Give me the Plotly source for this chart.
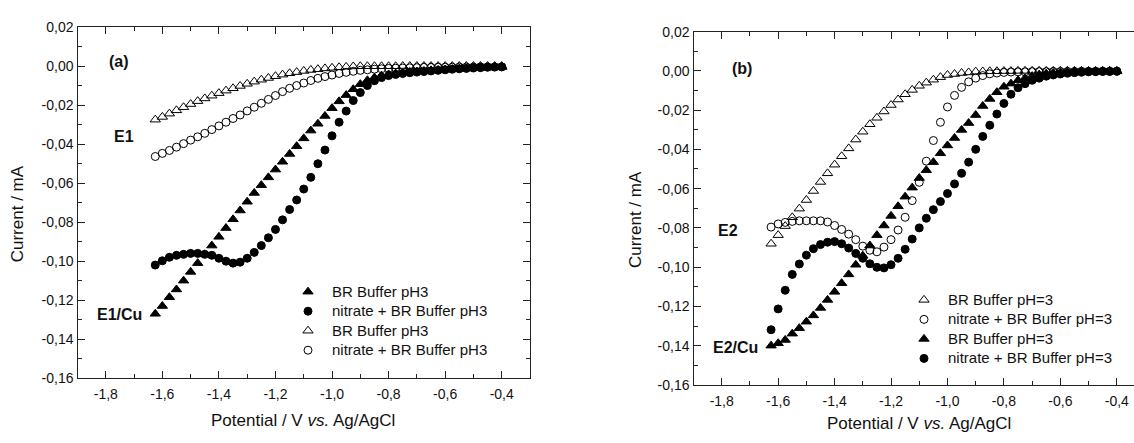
import plotly.graph_objects as go

# ---------------- data ----------------
potential = [-1.625, -1.600, -1.575, -1.550, -1.525, -1.500, -1.475, -1.450, -1.425, -1.400,
             -1.375, -1.350, -1.325, -1.300, -1.275, -1.250, -1.225, -1.200, -1.175, -1.150,
             -1.125, -1.100, -1.075, -1.050, -1.025, -1.000, -0.975, -0.950, -0.925, -0.900,
             -0.875, -0.850, -0.825, -0.800, -0.775, -0.750, -0.725, -0.700, -0.675, -0.650,
             -0.625, -0.600, -0.575, -0.550, -0.525, -0.500, -0.475, -0.450, -0.425, -0.400]

# panel (a): E1 / E1-Cu
a_cu_buffer = [-0.127, -0.123, -0.1185, -0.1145, -0.110, -0.1055, -0.101, -0.0965, -0.092, -0.0875,
               -0.083, -0.0785, -0.074, -0.0695, -0.065, -0.061, -0.057, -0.053, -0.049, -0.045,
               -0.041, -0.037, -0.033, -0.0295, -0.0255, -0.0215, -0.018, -0.0148, -0.0118, -0.0092,
               -0.0072, -0.0058, -0.0048, -0.0042, -0.0037, -0.0033, -0.0030, -0.0027, -0.0024, -0.0021,
               -0.0019, -0.0017, -0.0015, -0.0013, -0.0011, -0.0009, -0.0007, -0.0006, -0.0005, -0.0004]
a_cu_nitrate = [-0.102, -0.0998, -0.098, -0.097, -0.0965, -0.096, -0.096, -0.0965, -0.097, -0.0985,
                -0.100, -0.101, -0.1005, -0.0985, -0.0955, -0.092, -0.088, -0.0837, -0.0788, -0.0735,
                -0.0686, -0.063, -0.057, -0.050, -0.043, -0.0357, -0.0287, -0.023, -0.0176, -0.0135,
                -0.0099, -0.0074, -0.0058, -0.0048, -0.0042, -0.0037, -0.0033, -0.0030, -0.0027, -0.0024,
                -0.0021, -0.0018, -0.0015, -0.0013, -0.0011, -0.0009, -0.0007, -0.0005, -0.0004, -0.0003]
a_e1_buffer = [-0.0274, -0.026, -0.0243, -0.0226, -0.021, -0.0194, -0.0179, -0.0165, -0.0151, -0.0138,
               -0.0125, -0.0113, -0.0101, -0.0090, -0.0079, -0.0069, -0.0060, -0.0051, -0.0043, -0.0036,
               -0.0030, -0.0024, -0.0019, -0.0015, -0.0011, -0.0008, -0.0005, -0.0003, -0.0001, 0.0,
               0.0, 0.0, 0.0, 0.0, 0.0, 0.0001, 0.0001, 0.0001, 0.0001, 0.0001,
               0.0001, 0.0001, 0.0001, 0.0001, 0.0001, 0.0001, 0.0001, 0.0001, 0.0001, 0.0001]
a_e1_nitrate = [-0.0463, -0.0447, -0.0432, -0.0415, -0.0397, -0.0379, -0.0362, -0.0344, -0.0325, -0.0306,
                -0.0287, -0.0268, -0.025, -0.0229, -0.021, -0.019, -0.017, -0.015, -0.013, -0.0113,
                -0.0099, -0.0086, -0.0073, -0.0062, -0.0053, -0.0045, -0.0037, -0.0031, -0.0026, -0.0021,
                -0.0018, -0.0015, -0.0013, -0.0011, -0.0010, -0.0009, -0.0008, -0.0007, -0.0006, -0.0006,
                -0.0005, -0.0005, -0.0005, -0.0004, -0.0004, -0.0004, -0.0003, -0.0003, -0.0003, -0.0003]

# panel (b): E2 / E2-Cu
b_e2_buffer = [-0.0881, -0.0837, -0.0791, -0.0746, -0.0702, -0.0658, -0.0612, -0.0566, -0.0522, -0.0478,
               -0.0435, -0.0395, -0.035, -0.031, -0.0272, -0.0239, -0.0207, -0.0174, -0.0146, -0.0119,
               -0.0097, -0.0076, -0.0060, -0.0045, -0.0032, -0.0021, -0.0016, -0.0011, -0.0008, -0.0004,
               -0.0003, -0.0002, -0.0002, -0.0001, -0.0001, 0.0, 0.0, 0.0, 0.0, 0.0,
               0.0, 0.0, 0.0, 0.0, 0.0, 0.0, 0.0, 0.0, 0.0, 0.0]
b_e2_nitrate = [-0.0796, -0.078, -0.0772, -0.0767, -0.0764, -0.0764, -0.0764, -0.0764, -0.077, -0.0788,
                -0.0808, -0.0832, -0.086, -0.0893, -0.0914, -0.0922, -0.0898, -0.086, -0.0811, -0.0746,
                -0.0661, -0.0568, -0.046, -0.0355, -0.0262, -0.0184, -0.0125, -0.0084, -0.0056, -0.0037,
                -0.0024, -0.0015, -0.0011, -0.0008, -0.0006, -0.0005, -0.0005, -0.0004, -0.0004, -0.0004,
                -0.0003, -0.0003, -0.0003, -0.0003, -0.0002, -0.0002, -0.0002, -0.0002, -0.0002, -0.0002]
b_cu_buffer = [-0.140, -0.1388, -0.1371, -0.1339, -0.1311, -0.1278, -0.1246, -0.1208, -0.1167, -0.1126,
               -0.1082, -0.1037, -0.0988, -0.0942, -0.089, -0.0837, -0.0788, -0.0739, -0.069, -0.0641,
               -0.0595, -0.0546, -0.0506, -0.0465, -0.042, -0.038, -0.0342, -0.0301, -0.0266, -0.0225,
               -0.0179, -0.0143, -0.0109, -0.0081, -0.0065, -0.0048, -0.0037, -0.0027, -0.0019, -0.0014,
               -0.0011, -0.0009, -0.0007, -0.0006, -0.0005, -0.0004, -0.0003, -0.0003, -0.0002, -0.0002]
b_cu_nitrate = [-0.1319, -0.1213, -0.1118, -0.1037, -0.0984, -0.0939, -0.0906, -0.0885, -0.0873, -0.087,
                -0.0881, -0.0903, -0.093, -0.0955, -0.0983, -0.1001, -0.1004, -0.0988, -0.0955, -0.0909,
                -0.0857, -0.080, -0.0751, -0.0707, -0.0666, -0.0625, -0.0576, -0.0522, -0.0465, -0.040,
                -0.0334, -0.0277, -0.022, -0.0166, -0.0119, -0.0086, -0.0065, -0.0048, -0.0037, -0.0027,
                -0.0021, -0.0016, -0.0012, -0.0009, -0.0007, -0.0005, -0.0004, -0.0003, -0.0003, -0.0002]

legend_a = ["BR Buffer pH3", "nitrate + BR Buffer pH3", "BR Buffer pH3", "nitrate + BR Buffer pH3"]
legend_b = ["BR Buffer pH=3", "nitrate + BR Buffer pH=3", "BR Buffer pH=3", "nitrate + BR Buffer pH=3"]

x_tickvals = [-1.8, -1.6, -1.4, -1.2, -1.0, -0.8, -0.6, -0.4]
x_ticktext = ["-1,8", "-1,6", "-1,4", "-1,2", "-1,0", "-0,8", "-0,6", "-0,4"]
y_tickvals = [0.02, 0.0, -0.02, -0.04, -0.06, -0.08, -0.10, -0.12, -0.14, -0.16]
y_ticktext = ["0,02", "0,00", "-0,02", "-0,04", "-0,06", "-0,08", "-0,10", "-0,12", "-0,14", "-0,16"]

x_title = "Potential / V <i>vs.</i> Ag/AgCl"
y_title = "Current / mA"

# ---------------- figure ----------------
W, H = 1134, 443
FONT = "Arial, Liberation Sans, Helvetica, sans-serif"
AX = "#222222"
LEG_TEXT = 15   # visible legend text size
LEG_ROW = 12.7  # legend font size that sets the row pitch

fig = go.Figure()

def add(x, y, name, symbol, size, xa, ya, legend):
    fig.add_trace(go.Scatter(
        x=x, y=y, mode="markers", xaxis=xa, yaxis=ya, legend=legend,
        name=f"<span style='font-size:{LEG_TEXT}px'>{name}</span>",
        marker=dict(symbol=symbol, size=size, color="black",
                    line=dict(color="black", width=1)),
    ))

add(potential, a_cu_buffer, legend_a[0], "triangle-up", 9, "x", "y", "legend")
add(potential, a_cu_nitrate, legend_a[1], "circle", 8, "x", "y", "legend")
add(potential, a_e1_buffer, legend_a[2], "triangle-up-open", 9, "x", "y", "legend")
add(potential, a_e1_nitrate, legend_a[3], "circle-open", 8, "x", "y", "legend")

add(potential, b_e2_buffer, legend_b[0], "triangle-up-open", 9, "x2", "y2", "legend2")
add(potential, b_e2_nitrate, legend_b[1], "circle-open", 8, "x2", "y2", "legend2")
add(potential, b_cu_buffer, legend_b[2], "triangle-up", 9, "x2", "y2", "legend2")
add(potential, b_cu_nitrate, legend_b[3], "circle", 8, "x2", "y2", "legend2")

def px_x(p):
    return p / W

def px_y(p):
    return 1 - p / H

common_x = dict(
    tickmode="array", tickvals=x_tickvals, ticktext=x_ticktext,
    ticks="inside", ticklen=7, tickwidth=1.2, tickcolor=AX,
    showline=True, linecolor=AX, linewidth=1.4, mirror="ticks",
    showgrid=False, zeroline=False, ticklabelstandoff=3,
    tickfont=dict(family=FONT, size=14, color="#111"),
    minor=dict(tickmode="linear", tick0=-1.9, dtick=0.1, ticks="inside",
               ticklen=4, tickwidth=1.2, tickcolor=AX),
)
common_y = dict(
    tickmode="array", tickvals=y_tickvals, ticktext=y_ticktext, range=[-0.16, 0.02],
    ticks="inside", ticklen=7, tickwidth=1.2, tickcolor=AX,
    showline=True, linecolor=AX, linewidth=1.4,
    showgrid=False, zeroline=False, ticklabelstandoff=0,
    tickfont=dict(family=FONT, size=14, color="#111"),
    minor=dict(tickmode="linear", tick0=-0.16, dtick=0.01, ticks="inside",
               ticklen=4, tickwidth=1.2, tickcolor=AX),
)

fig.update_layout(
    width=W, height=H, margin=dict(l=0, r=0, t=0, b=0),
    paper_bgcolor="white", plot_bgcolor="white",
    font=dict(family=FONT, color="#111"),
    xaxis=dict(common_x, domain=[px_x(77.5), px_x(530)], range=[-1.9, -0.3], anchor="y"),
    yaxis=dict(common_y, domain=[px_y(384), px_y(20)], anchor="x", mirror="ticks"),
    xaxis2=dict(common_x, domain=[px_x(693.5), 1.0], range=[-1.9, -0.339], anchor="y2"),
    yaxis2=dict(common_y, domain=[px_y(391), px_y(24.5)], anchor="x2", mirror=False),
    legend=dict(x=px_x(284), y=px_y(279), xanchor="left", yanchor="top",
                bgcolor="rgba(0,0,0,0)", font=dict(family=FONT, size=LEG_ROW, color="#111"),
                tracegroupgap=0, itemsizing="trace", itemwidth=38),
    legend2=dict(x=px_x(900), y=px_y(287.5), xanchor="left", yanchor="top",
                 bgcolor="rgba(0,0,0,0)", font=dict(family=FONT, size=LEG_ROW, color="#111"),
                 tracegroupgap=0, itemsizing="trace", itemwidth=38),
    showlegend=True,
)

ann = []
def label(text, x, y, xref, yref, size=16, bold=True):
    ann.append(dict(text=f"<b>{text}</b>" if bold else text, x=x, y=y, xref=xref, yref=yref,
                    xanchor="center", yanchor="middle",
                    showarrow=False, font=dict(family=FONT, size=size, color="#111")))

label("(a)", -1.752, 0.0024, "x", "y")
label("E1", -1.735, -0.0361, "x", "y")
label("E1/Cu", -1.752, -0.1272, "x", "y")
label("(b)", -1.729, 0.0012, "x2", "y2")
label("E2", -1.777, -0.0813, "x2", "y2")
label("E2/Cu", -1.752, -0.1409, "x2", "y2")

for cx, cy in [(303, 428), (919, 431)]:
    ann.append(dict(text=x_title, x=px_x(cx), y=px_y(cy), xref="paper", yref="paper",
                    xanchor="center", yanchor="middle",
                    showarrow=False, font=dict(family=FONT, size=17, color="#111")))
for cx, cy in [(17, 214), (635, 220)]:
    ann.append(dict(text=y_title, x=px_x(cx), y=px_y(cy), xref="paper", yref="paper",
                    xanchor="center", yanchor="middle",
                    textangle=-90, showarrow=False, font=dict(family=FONT, size=17, color="#111")))

fig.update_layout(annotations=ann)
fig.write_html("out.html", config={"displayModeBar": False},
               post_script="document.body.style.margin='0';document.body.style.overflow='hidden';")
